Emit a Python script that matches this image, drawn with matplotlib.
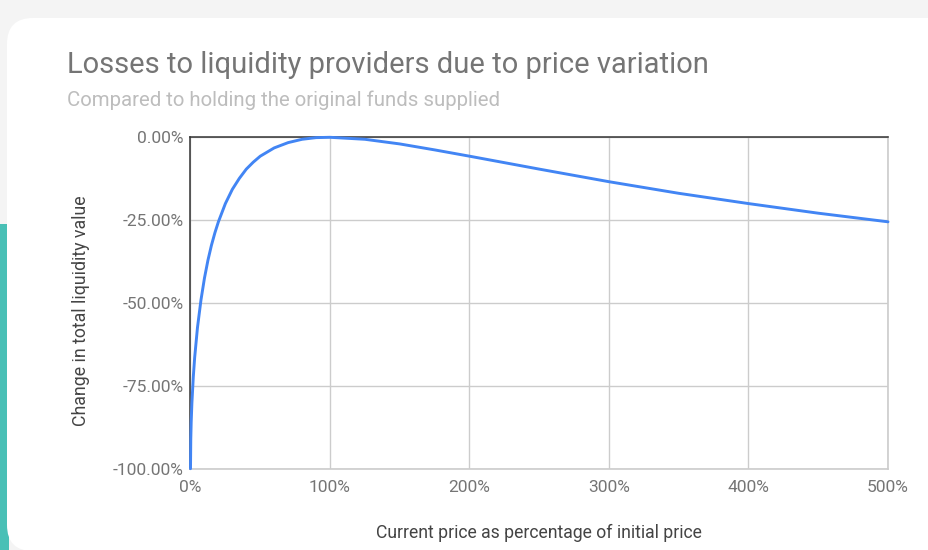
import matplotlib
matplotlib.use("Agg")
import matplotlib.pyplot as plt
from matplotlib.patches import FancyBboxPatch, Rectangle
from matplotlib.ticker import FuncFormatter

plt.rcParams['font.family'] = ['Roboto', 'DejaVu Sans']

# Data: price ratio (% of initial) vs change in value (%)
price_pct = [0, 0.2, 0.5, 1, 2, 3, 5, 7.5, 10, 12.5, 15, 17.5, 20, 25, 30, 35, 40, 45,
             50, 60, 70, 80, 90, 100, 125, 150, 175, 200, 250, 300, 350, 400, 450, 500]
value_change = [-100.0, -91.1, -85.9, -80.2, -72.3, -66.4, -57.4, -49.1, -42.5, -37.1,
                -32.6, -28.8, -25.5, -20.0, -15.7, -12.4, -9.6, -7.5,
                -5.7, -3.2, -1.6, -0.6, -0.1, 0.0, -0.6, -2.0, -3.8, -5.7, -9.6, -13.4,
                -16.9, -20.0, -22.9, -25.5]
x_ticks = [0, 100, 200, 300, 400, 500]
y_ticks = [0, -25, -50, -75, -100]

title = "Losses to liquidity providers due to price variation"
subtitle = "Compared to holding the original funds supplied"
x_label = "Current price as percentage of initial price"
y_label = "Change in total liquidity value"

W, H = 929, 550
fig = plt.figure(figsize=(W / 100, H / 100), dpi=100)
fig.patch.set_facecolor('#f4f4f4')

# background decorations: teal strip and white card
fig.add_artist(Rectangle((0, 0), 9 / W, (H - 224) / H, transform=fig.transFigure,
                         facecolor='#49c0b6', edgecolor='none', zorder=0))
card = FancyBboxPatch((7 / W, -1 / H), 1.2, (H - 17) / H,
                      boxstyle="round,pad=0,rounding_size=0.028",
                      transform=fig.transFigure, facecolor='white', edgecolor='none',
                      zorder=0.5, mutation_aspect=W / H)
fig.add_artist(card)

left, right, top, bottom = 190.5, 888, 137.3, 468.7
ax = fig.add_axes([left / W, 1 - bottom / H, (right - left) / W, (bottom - top) / H])
ax.set_facecolor('none')
ax.set_zorder(2)

ax.plot(price_pct, value_change, color='#4285f4', lw=2.1, solid_capstyle='round',
        solid_joinstyle='round', zorder=3, clip_on=False)

ax.set_xlim(0, 500)
ax.set_ylim(-100, 0)
ax.set_xticks(x_ticks)
ax.set_yticks(y_ticks)
ax.xaxis.set_major_formatter(FuncFormatter(lambda v, p: f"{v:.0f}%"))
ax.yaxis.set_major_formatter(FuncFormatter(lambda v, p: f"{v:.2f}%"))
ax.grid(True, color='#cccccc', lw=1)
ax.set_axisbelow(True)
for s in ['right', 'bottom']:
    ax.spines[s].set_color('#cccccc')
    ax.spines[s].set_linewidth(1.2)
for s in ['top', 'left']:
    ax.spines[s].set_color('#333333')
    ax.spines[s].set_linewidth(1.1)
    ax.spines[s].set_zorder(2.5)
ax.tick_params(axis='y', length=0, labelsize=12.5, labelcolor='#757575', pad=5)
ax.tick_params(axis='x', length=0, labelsize=12.5, labelcolor='#757575', pad=8)

ax.set_xlabel(x_label, fontsize=12.7, color='#444444', labelpad=21)
ax.set_ylabel(y_label, fontsize=12.8, color='#444444', labelpad=16)
ax.yaxis.label.set_y(0.477)

fig.text(67 / W, 1 - 73 / H, title, fontsize=21, color='#757575', va='baseline', ha='left')
fig.text(67 / W, 1 - 106 / H, subtitle, fontsize=14.7, color='#bdbdbd', va='baseline', ha='left')

fig.savefig('out.png', dpi=100, facecolor=fig.get_facecolor())
